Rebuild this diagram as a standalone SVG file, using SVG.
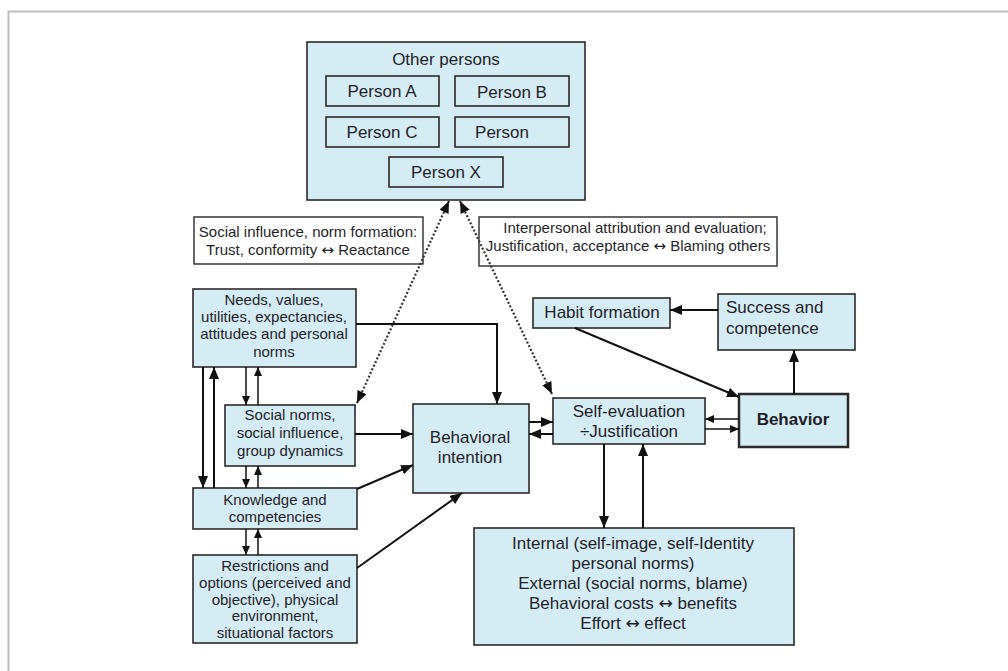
<svg xmlns="http://www.w3.org/2000/svg" width="1008" height="671" viewBox="0 0 1008 671">
<defs>
<marker id="ah" markerUnits="userSpaceOnUse" markerWidth="12" markerHeight="10" refX="12" refY="5" orient="auto-start-reverse"><path d="M0,0 L12,5 L0,10 z" fill="#111"/></marker>
<marker id="as" markerUnits="userSpaceOnUse" markerWidth="9" markerHeight="8" refX="9" refY="4" orient="auto-start-reverse"><path d="M0,0 L9,4 L0,8 z" fill="#111"/></marker>
<style>
.n{fill:#d4ecf3;stroke:#2a2a2a;stroke-width:1.6}
.w{fill:#ffffff;stroke:#2a2a2a;stroke-width:1.4}
text{font-family:"Liberation Sans",Arial,sans-serif;fill:#1f1f2a;text-anchor:middle}
.ar{font-family:"DejaVu Sans",sans-serif}
.t15{font-size:15px}
.t17{font-size:17px}
.c{fill:none;stroke:#111;stroke-width:2}
.cs{fill:none;stroke:#111;stroke-width:1.5}
.d{fill:none;stroke:#333;stroke-width:2.2;stroke-dasharray:2,2}
</style>
</defs>
<rect width="1008" height="671" fill="#ffffff"/>
<path d="M8.5,671 V11.5 H1008" fill="none" stroke="#bdbdbd" stroke-width="2"/>

<g id="other-persons">
<rect class="n" x="307" y="42" width="278" height="158"/>
<text class="t17" x="446" y="65">Other persons</text>
</g>
<g id="person-a"><rect class="n" x="326" y="76" width="113" height="30"/><text class="t17" x="382" y="97">Person A</text></g>
<g id="person-b"><rect class="n" x="455" y="76" width="114" height="30"/><text class="t17" x="512" y="98">Person B</text></g>
<g id="person-c"><rect class="n" x="326" y="117" width="113" height="30"/><text class="t17" x="382" y="138">Person C</text></g>
<g id="person"><rect class="n" x="455" y="117" width="114" height="30"/><text class="t17" x="502" y="138">Person</text></g>
<g id="person-x"><rect class="n" x="389" y="157" width="114" height="30"/><text class="t17" x="446" y="178">Person X</text></g>

<g id="social-influence-label">
<rect class="w" x="194" y="217" width="229" height="47"/>
<text class="t15" x="308" y="237">Social influence, norm formation:</text>
<text class="t15" x="308" y="255">Trust, conformity <tspan class="ar">↔</tspan> Reactance</text>
</g>
<g id="interpersonal-label">
<rect class="w" x="479" y="217" width="298" height="49"/>
<text class="t15" x="635" y="233">Interpersonal attribution and evaluation;</text>
<text class="t15" x="628" y="251">Justification, acceptance <tspan class="ar">↔</tspan> Blaming others</text>
</g>

<g id="needs">
<rect class="n" x="193" y="289" width="163" height="78"/>
<text class="t15" x="274" y="305">Needs, values,</text>
<text class="t15" x="274" y="322">utilities, expectancies,</text>
<text class="t15" x="274" y="339">attitudes and personal</text>
<text class="t15" x="274" y="357">norms</text>
</g>
<g id="social-norms">
<rect class="n" x="225" y="405" width="130" height="61"/>
<text class="t15" x="290" y="420">Social norms,</text>
<text class="t15" x="290" y="438">social influence,</text>
<text class="t15" x="290" y="456">group dynamics</text>
</g>
<g id="knowledge">
<rect class="n" x="193" y="488" width="164" height="41"/>
<text class="t15" x="275" y="505">Knowledge and</text>
<text class="t15" x="275" y="522">competencies</text>
</g>
<g id="restrictions">
<rect class="n" x="193" y="555" width="164" height="88"/>
<text class="t15" x="275" y="571">Restrictions and</text>
<text class="t15" x="275" y="588">options (perceived and</text>
<text class="t15" x="275" y="605">objective), physical</text>
<text class="t15" x="275" y="621">environment,</text>
<text class="t15" x="275" y="638">situational factors</text>
</g>
<g id="behavioral-intention">
<rect class="n" x="413" y="404" width="116" height="89"/>
<text class="t17" x="470" y="443">Behavioral</text>
<text class="t17" x="470" y="463">intention</text>
</g>
<g id="self-evaluation">
<rect class="n" x="553" y="398" width="152" height="46"/>
<text class="t17" x="629" y="417">Self-evaluation</text>
<text class="t17" x="629" y="437">÷Justification</text>
</g>
<g id="behavior">
<rect class="n" x="739" y="394" width="109" height="53" style="stroke-width:2.5"/>
<text class="t17" x="793" y="425" font-weight="bold">Behavior</text>
</g>
<g id="habit-formation">
<rect class="n" x="533" y="298" width="137" height="30"/>
<text class="t17" x="602" y="318">Habit formation</text>
</g>
<g id="success">
<rect class="n" x="718" y="294" width="137" height="56"/>
<text class="t17" x="726" y="313" style="text-anchor:start">Success and</text>
<text class="t17" x="726" y="334" style="text-anchor:start">competence</text>
</g>
<g id="evaluation-factors">
<rect class="n" x="474" y="528" width="320" height="117"/>
<text class="t17" x="633" y="549">Internal (self-image, self-Identity</text>
<text class="t17" x="633" y="569">personal norms)</text>
<text class="t17" x="633" y="589">External (social norms, blame)</text>
<text class="t17" x="633" y="609">Behavioral costs <tspan class="ar">↔</tspan> benefits</text>
<text class="t17" x="633" y="629">Effort <tspan class="ar">↔</tspan> effect</text>
</g>

<g id="connectors">
<path class="c" d="M356,324 H497 V404" marker-end="url(#ah)"/>
<path class="c" d="M355,434 H413" marker-end="url(#ah)"/>
<path class="c" d="M357,489 L413,465" marker-end="url(#ah)"/>
<path class="c" d="M357,568 L462,493" marker-end="url(#ah)"/>
<path class="c" d="M529,422 H553" marker-end="url(#ah)"/>
<path class="c" d="M553,434 H529" marker-end="url(#ah)"/>
<path class="cs" d="M739,419 H705" marker-end="url(#as)"/>
<path class="cs" d="M705,429 H739" marker-end="url(#as)"/>
<path class="c" d="M794,394 V350" marker-end="url(#ah)"/>
<path class="c" d="M718,310 H670" marker-end="url(#ah)"/>
<path class="c" d="M575,328 L739,397" marker-end="url(#ah)"/>
<path class="c" d="M604,444 V528" marker-end="url(#ah)"/>
<path class="c" d="M643,528 V444" marker-end="url(#ah)"/>
<path class="d" d="M357,403 L449,201" marker-start="url(#ah)" marker-end="url(#ah)"/>
<path class="d" d="M552,394 L460,201" marker-start="url(#ah)" marker-end="url(#ah)"/>
<path class="c" d="M203,367 V488" marker-end="url(#ah)"/>
<path class="c" d="M214,488 V367" marker-end="url(#ah)"/>
<path class="cs" d="M246,367 V405" marker-end="url(#as)"/>
<path class="cs" d="M258,405 V367" marker-end="url(#as)"/>
<path class="cs" d="M246,466 V488" marker-end="url(#as)"/>
<path class="cs" d="M258,488 V466" marker-end="url(#as)"/>
<path class="cs" d="M246,529 V555" marker-end="url(#as)"/>
<path class="cs" d="M258,555 V529" marker-end="url(#as)"/>
</g>
</svg>
